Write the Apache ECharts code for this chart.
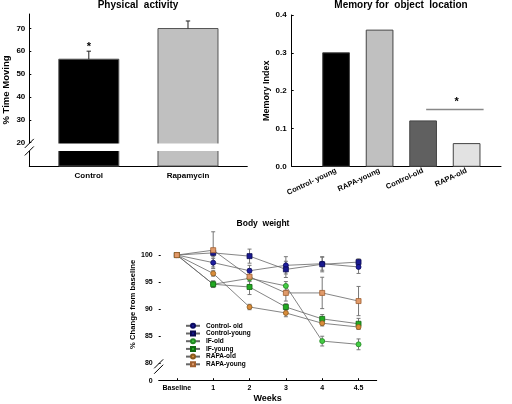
<!DOCTYPE html>
<html><head><meta charset="utf-8">
<script src="https://cdn.jsdelivr.net/npm/echarts@6/dist/echarts.min.js"></script>
<style>html,body{margin:0;padding:0;background:#fff}#c{width:512px;height:404px}</style>
</head><body><div id="c"></div>
<script>
// ---- Physical activity ----
const activityGroups = ['Control', 'Rapamycin'];
const activityValues = [56.5, 69.9];
const activityErrors = [3.5, 3.3];
const activityStars = ['*', ''];
const activityTicks = [20, 30, 40, 50, 60, 70];
const activityBreak = [16.4, 19.7];

// ---- Memory for object location ----
const memoryGroups = ['Control- young', 'RAPA-young', 'Control-old', 'RAPA-old'];
const memoryValues = [0.30, 0.36, 0.12, 0.06];
const memoryTicks = [0, 0.1, 0.2, 0.3, 0.4];
const memorySig = [2.07, 3.39, 0.15];
const memorySigStar = [2.77, 0.178];

// ---- Body weight ----
const weeks = ['Baseline', '1', '2', '3', '4', '4.5'];
const controlOld = [100, 98.6, 97.1, 98.1, 98.4, 97.8];
const controlOldErr = [0, 0.8, 1.0, 1.6, 1.2, 1.2];
const controlYoung = [100, 100.4, 99.8, 97.35, 98.3, 98.7];
const controlYoungErr = [0, 0.7, 1.3, 1.5, 1.4, 0.6];
const ifOld = [100, 94.6, 95.7, 94.3, 84.1, 83.5];
const ifOldErr = [0, 0.6, 0.6, 0.8, 0.9, 1.0];
const ifYoung = [100, 94.6, 94.1, 90.4, 88.2, 87.3];
const ifYoungErr = [0, 0.6, 1.4, 0.6, 0.8, 1.0];
const rapaOld = [100, 96.6, 90.4, 89.3, 87.4, 86.7];
const rapaOldErr = [0, 0.5, 0.5, 0.7, 0.5, 0.4];
const rapaYoung = [100, 100.9, 96.0, 93.0, 93.0, 91.5];
const rapaYoungErr = [0, 3.4, 1.5, 1.5, 2.9, 2.7];
const weightTicks = [80, 85, 90, 95, 100];
const weightZeroAt = 76.78;
const weightBreak = [78.9, 79.9];

const FONT = "'Liberation Sans', Arial, sans-serif";
const chart = echarts.init(document.getElementById('c'), null, {renderer: 'canvas'});

const axisLineStyle = {onZero: false, lineStyle: {color: '#000', width: 1}};
const labelStyle = (size, margin) => ({fontFamily: FONT, fontWeight: 'bold', fontSize: size, color: '#000', margin: margin});
const nameStyle = (size) => ({fontFamily: FONT, fontWeight: 'bold', fontSize: size, color: '#000'});

function barSeries(xIdx, yIdx, values, colors, border, barWidth) {
  return {
    type: 'custom', xAxisIndex: xIdx, yAxisIndex: yIdx, z: 2, silent: true,
    data: values.map(function (v, i) { return [i, v]; }),
    renderItem: function (params, api) {
      const cs = params.coordSys;
      const p = api.coord([api.value(0), api.value(1)]);
      const base = cs.y + cs.height;
      return {type: 'rect', shape: {x: p[0] - barWidth / 2, y: p[1], width: barWidth, height: base - p[1]},
        style: {fill: colors[params.dataIndex], stroke: border, lineWidth: 1}};
    }
  };
}

function breakSeries(xIdx, yIdx, xVal, lo, hi, coverBand, z) {
  return {
    type: 'custom', xAxisIndex: xIdx, yAxisIndex: yIdx, z: z, silent: true, clip: false,
    data: [[xVal, lo, hi]],
    renderItem: function (params, api) {
      const cs = params.coordSys;
      const yHi = api.coord([api.value(0), api.value(2)])[1];
      const yLo = api.coord([api.value(0), api.value(1)])[1];
      const ax = cs.x;
      const children = [];
      children.push({type: 'rect', shape: {x: ax - 1.5, y: yHi, width: coverBand ? cs.width + 1.5 : 3, height: yLo - yHi}, style: {fill: '#fff'}});
      [yHi, yLo].forEach(function (yy) {
        children.push({type: 'line', shape: {x1: ax - 4.5, y1: yy + 4.5, x2: ax + 4.5, y2: yy - 4.5}, style: {stroke: '#000', lineWidth: 1}});
      });
      return {type: 'group', children: children};
    }
  };
}

function errorBars(xIdx, yIdx, values, errs, capHalf, color, upOnly, stars, z) {
  return {
    type: 'custom', xAxisIndex: xIdx, yAxisIndex: yIdx, z: z, silent: true, clip: false,
    data: values.map(function (v, i) { return [i, v, errs[i]]; }),
    renderItem: function (params, api) {
      const i = api.value(0), v = api.value(1), e = api.value(2);
      if (!e) return null;
      const top = api.coord([i, v + e]);
      const bot = api.coord([i, upOnly ? v : v - e]);
      const ch = [
        {type: 'line', shape: {x1: top[0], y1: top[1], x2: bot[0], y2: bot[1]}, style: {stroke: color, lineWidth: 1}},
        {type: 'line', shape: {x1: top[0] - capHalf, y1: top[1], x2: top[0] + capHalf, y2: top[1]}, style: {stroke: color, lineWidth: 1}}
      ];
      if (!upOnly) ch.push({type: 'line', shape: {x1: bot[0] - capHalf, y1: bot[1], x2: bot[0] + capHalf, y2: bot[1]}, style: {stroke: color, lineWidth: 1}});
      if (stars && stars[params.dataIndex]) {
        ch.push({type: 'text', style: {text: stars[params.dataIndex], x: top[0], y: top[1] - 9.5, textAlign: 'center', textVerticalAlign: 'top', font: 'bold 11px ' + FONT, fill: '#000'}});
      }
      return {type: 'group', children: ch};
    }
  };
}

const activityColors = ['#000000', '#c0c0c0'];
const memoryColors = ['#000000', '#c0c0c0', '#606060', '#e2e2e2'];

const weightSeriesDef = [
  {name: 'Control- old', data: controlOld, err: controlOldErr, symbol: 'circle', fill: '#1e1ea0', border: '#0a0a60'},
  {name: 'Control-young', data: controlYoung, err: controlYoungErr, symbol: 'rect', fill: '#1a1a90', border: '#0a0a50'},
  {name: 'IF-old', data: ifOld, err: ifOldErr, symbol: 'circle', fill: '#44cc44', border: '#228822'},
  {name: 'IF-young', data: ifYoung, err: ifYoungErr, symbol: 'rect', fill: '#22aa22', border: '#116611'},
  {name: 'RAPA-old', data: rapaOld, err: rapaOldErr, symbol: 'circle', fill: '#d98c3a', border: '#8a5a20'},
  {name: 'RAPA-young', data: rapaYoung, err: rapaYoungErr, symbol: 'rect', fill: '#e09a6a', border: '#a06030'}
];

const series = [];
// Chart 1
series.push(barSeries(0, 0, activityValues, activityColors, '#555', 60));
series.push(errorBars(0, 0, activityValues, activityErrors, 2.2, '#222', true, activityStars, 3));
series.push(breakSeries(0, 0, 0, activityBreak[0], activityBreak[1], true, 5));

// Chart 2
series.push(barSeries(1, 1, memoryValues, memoryColors, '#444', 26.7));
series.push({
  type: 'custom', xAxisIndex: 1, yAxisIndex: 1, z: 4, silent: true, clip: false,
  data: [[memorySig[0], memorySig[1], memorySig[2], memorySigStar[0], memorySigStar[1]]],
  renderItem: function (params, api) {
    const a = api.coord([api.value(0), api.value(2)]);
    const b = api.coord([api.value(1), api.value(2)]);
    const s = api.coord([api.value(3), api.value(4)]);
    return {type: 'group', children: [
      {type: 'line', shape: {x1: a[0], y1: a[1], x2: b[0], y2: b[1]}, style: {stroke: '#888', lineWidth: 1.5}},
      {type: 'text', style: {text: '*', x: s[0], y: s[1] - 3, textAlign: 'center', textVerticalAlign: 'top', font: 'bold 11px ' + FONT, fill: '#000'}}
    ]};
  }
});

// Chart 3
weightSeriesDef.forEach(function (d) {
  series.push(errorBars(2, 2, d.data, d.err, 2, '#777', false, null, 2));
});
weightSeriesDef.forEach(function (d) {
  series.push({
    type: 'line', name: d.name, xAxisIndex: 2, yAxisIndex: 2, z: 3,
    data: d.data, symbol: d.symbol, symbolSize: 5, showSymbol: true,
    lineStyle: {color: '#666', width: 0.8},
    itemStyle: {color: d.fill, borderColor: d.border, borderWidth: 0.8},
    emphasis: {disabled: true}, animation: false
  });
});
series.push(breakSeries(2, 2, 0, weightBreak[0], weightBreak[1], false, 5));

const option = {
  animation: false,
  backgroundColor: '#fff',
  textStyle: {fontFamily: FONT},
  graphic: [
    {type: 'text', style: {text: 'Physical  activity', x: 138, y: 5, textAlign: 'center', textVerticalAlign: 'middle', font: 'bold 10px ' + FONT, fill: '#000'}},
    {type: 'text', style: {text: 'Memory for  object  location', x: 401, y: 5, textAlign: 'center', textVerticalAlign: 'middle', font: 'bold 10px ' + FONT, fill: '#000'}},
    {type: 'text', style: {text: 'Body  weight', x: 263, y: 224, textAlign: 'center', textVerticalAlign: 'middle', font: 'bold 8.5px ' + FONT, fill: '#000'}}
  ],
  legend: {
    data: weightSeriesDef.map(function (d) { return d.name; }),
    orient: 'vertical', left: 185, top: 322.3, padding: 0,
    itemWidth: 14, itemHeight: 5, itemGap: 0.7,
    textStyle: {fontFamily: FONT, fontWeight: 'bold', fontSize: 6.5, color: '#000', padding: [0, 0, 0, 1]},
    selectedMode: false
  },
  grid: [
    {left: 29.3, top: 14, width: 218, height: 152},
    {left: 291.7, top: 15, width: 209.3, height: 151.3},
    {left: 158.7, top: 228, width: 218, height: 152.7}
  ],
  xAxis: [
    {gridIndex: 0, type: 'value', min: -0.6, max: 1.598, splitLine: {show: false},
     axisLine: axisLineStyle, axisTick: {show: false},
     axisLabel: Object.assign(labelStyle(8, 6), {customValues: [0, 1], formatter: function (v) { return activityGroups[Math.round(v)]; }})},
    {gridIndex: 1, type: 'value', min: -1.02, max: 3.79, splitLine: {show: false},
     axisLine: axisLineStyle, axisTick: {show: false},
     axisLabel: Object.assign(labelStyle(7.5, 4), {rotate: 25, customValues: [0, 1, 2, 3], formatter: function (v) { return memoryGroups[Math.round(v)]; }})},
    {gridIndex: 2, type: 'category', data: weeks, boundaryGap: true,
     axisLine: axisLineStyle, axisTick: {show: true, inside: true, length: 2.5, alignWithLabel: true, lineStyle: {color: '#000'}},
     axisLabel: Object.assign(labelStyle(7, 4), {interval: 0}),
     name: 'Weeks', nameLocation: 'middle', nameGap: 13, nameTextStyle: nameStyle(9)}
  ],
  yAxis: [
    {gridIndex: 0, type: 'value', min: 9.82, max: 76.25, splitLine: {show: false},
     axisLine: axisLineStyle,
     axisTick: {show: true, inside: true, length: 2, customValues: activityTicks, lineStyle: {color: '#000'}},
     axisLabel: Object.assign(labelStyle(8, 4), {customValues: activityTicks}),
     name: '% Time Moving', nameLocation: 'middle', nameGap: 18, nameRotate: 90, nameTextStyle: nameStyle(9.5)},
    {gridIndex: 1, type: 'value', min: 0, max: 0.4, splitLine: {show: false},
     axisLine: axisLineStyle,
     axisTick: {show: true, inside: true, length: 2, customValues: memoryTicks, lineStyle: {color: '#000'}},
     axisLabel: Object.assign(labelStyle(8, 5), {customValues: memoryTicks, formatter: function (v) { return v.toFixed(1); }}),
     name: 'Memory Index', nameLocation: 'middle', nameGap: 21, nameRotate: 90, nameTextStyle: nameStyle(9)},
    {gridIndex: 2, type: 'value', min: weightZeroAt, max: 105, splitLine: {show: false},
     axisLine: axisLineStyle,
     axisTick: {show: true, inside: true, length: 2, customValues: weightTicks, lineStyle: {color: '#000'}},
     axisLabel: Object.assign(labelStyle(7, 6), {customValues: [weightZeroAt].concat(weightTicks), formatter: function (v) { return v < 79 ? '0' : String(v); }}),
     name: '% Change from baseline', nameLocation: 'middle', nameGap: 20, nameRotate: 90, nameTextStyle: nameStyle(7.7)}
  ],
  series: series
};
chart.setOption(option);
</script>
</body></html>
